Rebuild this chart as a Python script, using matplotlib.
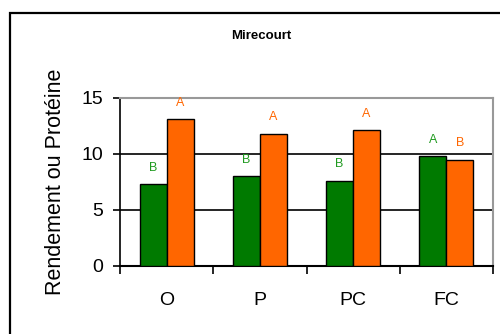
import numpy as np
import matplotlib.pyplot as plt
from matplotlib.patches import Rectangle

plt.rcParams['font.family'] = ['Liberation Sans', 'DejaVu Sans']

# ---------------------------
# DATA
# ---------------------------
categories = ['O', 'P', 'PC', 'FC']
rendement = [7.3, 8.0, 7.6, 9.8]
proteine = [13.1, 11.8, 12.1, 9.5]
lettres_rendement = ['B', 'B', 'B', 'A']
lettres_proteine = ['A', 'A', 'A', 'B']
y_ticks = [0, 5, 10, 15]

GREEN = '#007A00'
ORANGE = '#FF6600'
GREEN_TXT = '#1F9A1F'

fig = plt.figure(figsize=(5.0, 3.34), dpi=100)

# outer chart frame (continues past the right/bottom edge)
fig.patches.append(Rectangle((9.5 / 500, -0.1), 1.0, (334 - 13.5) / 334 + 0.1,
                             transform=fig.transFigure, fill=False,
                             edgecolor='black', linewidth=1.6))

ax = fig.add_axes([120 / 500, (334 - 266) / 334, (493 - 120) / 500, (266 - 98) / 334])

x_pos = np.arange(len(categories))
width = 0.29

ax.bar(x_pos - width / 2, rendement, width, color=GREEN, edgecolor='black', linewidth=1.0, zorder=3)
ax.bar(x_pos + width / 2, proteine, width, color=ORANGE, edgecolor='black', linewidth=1.0, zorder=3)

for i in range(len(categories)):
    ax.annotate(lettres_rendement[i], (x_pos[i] - width / 2, rendement[i]),
                xytext=(0, 12), textcoords='offset points', ha='center', va='center',
                fontsize=9, color=GREEN_TXT, zorder=4)
    ax.annotate(lettres_proteine[i], (x_pos[i] + width / 2, proteine[i]),
                xytext=(0, 12), textcoords='offset points', ha='center', va='center',
                fontsize=9, color=ORANGE, zorder=4)

ax.set_xlim(-0.5, len(categories) - 0.5)
ax.set_ylim(0, 15)
ax.set_yticks(y_ticks)
ax.tick_params(axis='y', labelsize=14, direction='out', length=5, width=1.2, pad=7)

# category labels between ticks
ax.set_xticks(x_pos)
ax.set_xticklabels(categories, fontsize=14)
ax.tick_params(axis='x', length=0, pad=19)
ax.set_xticks(np.arange(len(categories) + 1) - 0.5, minor=True)
ax.tick_params(axis='x', which='minor', direction='out', length=6, width=1.2)

ax.grid(True, axis='y', color='black', linewidth=1.2, zorder=0)
ax.spines['left'].set_linewidth(1.2)
ax.spines['bottom'].set_linewidth(1.5)
ax.spines['top'].set_color('#999999')
ax.spines['top'].set_linewidth(1.5)
ax.spines['right'].set_color('#999999')
ax.spines['right'].set_linewidth(1.5)

ax.set_ylabel('Rendement ou Protéine', fontsize=15.5, labelpad=11)

fig.text(261 / 500, 1 - 36 / 334, 'Mirecourt', ha='center', va='center',
         fontsize=9.5, fontweight='bold')

fig.savefig('out.png', dpi=100)
